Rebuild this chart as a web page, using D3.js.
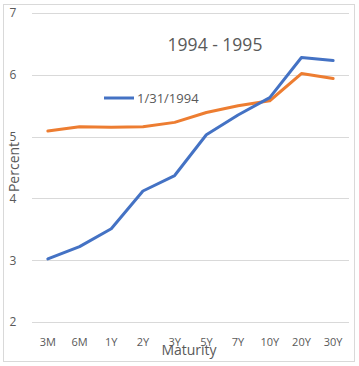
<!DOCTYPE html>
<html><head><meta charset="utf-8">
<script src="https://cdn.jsdelivr.net/npm/d3@7"></script>
<style>html,body{margin:0;padding:0;background:#fff;}svg{display:block;font-family:"Open Sans","Noto Sans",sans-serif;}</style>
</head><body>
<script>
const categories = ["3M","6M","1Y","2Y","3Y","5Y","7Y","10Y","20Y","30Y"];
const series1994 = [3.02,3.22,3.51,4.12,4.37,5.03,5.35,5.63,6.28,6.23];
const series1995 = [5.09,5.16,5.15,5.16,5.23,5.39,5.50,5.58,6.02,5.94];
const yTicks = [2,3,4,5,6,7];
const titleText = "1994 - 1995";
const legendLabel = "1/31/1994";
const xTitle = "Maturity", yTitle = "Percent";

const W = 359, H = 366;
const svg = d3.select("body").append("svg").attr("width", W).attr("height", H);
svg.append("rect").attr("x",3.5).attr("y",4.5).attr("width",351).attr("height",357)
  .attr("fill","#fff").attr("stroke","#d9d9d9");

const x = d3.scaleBand().domain(categories).range([32,349]);
const y = d3.scaleLinear().domain([2,7]).range([322,13]);

// gridlines
svg.append("g").selectAll("line").data(yTicks).join("line")
  .attr("x1",32).attr("x2",349).attr("y1",d=>Math.round(y(d))+0.5).attr("y2",d=>Math.round(y(d))+0.5)
  .attr("stroke","#d9d9d9").attr("stroke-width",1);

// y axis
const ya = svg.append("g").attr("transform","translate(18,0)")
  .call(d3.axisLeft(y).tickValues(yTicks).tickSize(0).tickPadding(0).tickFormat(d3.format("d")));
ya.select(".domain").remove();
ya.selectAll("text").attr("fill","#595959").attr("font-size",12).attr("text-anchor","middle").attr("x",-5)
  .style("font-family","'Open Sans','Noto Sans',sans-serif");

// x axis
const xa = svg.append("g").attr("transform","translate(0,338)")
  .call(d3.axisBottom(x).tickSize(0).tickPadding(0));
xa.select(".domain").remove();
xa.selectAll("text").attr("fill","#595959").attr("font-size",11)
  .style("font-family","'Open Sans','Noto Sans',sans-serif");

const line = d3.line().x((d,i)=>x(categories[i])+x.bandwidth()/2).y(d=>y(d));
svg.append("path").datum(series1995).attr("d",line).attr("fill","none")
  .attr("stroke","#ed7d31").attr("stroke-width",3).attr("stroke-linejoin","round").attr("stroke-linecap","round");
svg.append("path").datum(series1994).attr("d",line).attr("fill","none")
  .attr("stroke","#4472c4").attr("stroke-width",3).attr("stroke-linejoin","round").attr("stroke-linecap","round");

// title
svg.append("text").attr("x",215).attr("y",51).attr("text-anchor","middle")
  .attr("fill","#595959").attr("font-size",17.5).text(titleText);

// legend
svg.append("line").attr("x1",104).attr("x2",134).attr("y1",98).attr("y2",98)
  .attr("stroke","#4472c4").attr("stroke-width",3);
svg.append("text").attr("x",137).attr("y",102.5).attr("fill","#595959").attr("font-size",13).text(legendLabel);

// axis titles
svg.append("text").attr("x",189).attr("y",355).attr("text-anchor","middle")
  .attr("fill","#595959").attr("font-size",14).text(xTitle);
svg.append("text").attr("transform","translate(19,167) rotate(-90)").attr("text-anchor","middle")
  .attr("fill","#595959").attr("font-size",14).text(yTitle);
</script>
</body></html>
